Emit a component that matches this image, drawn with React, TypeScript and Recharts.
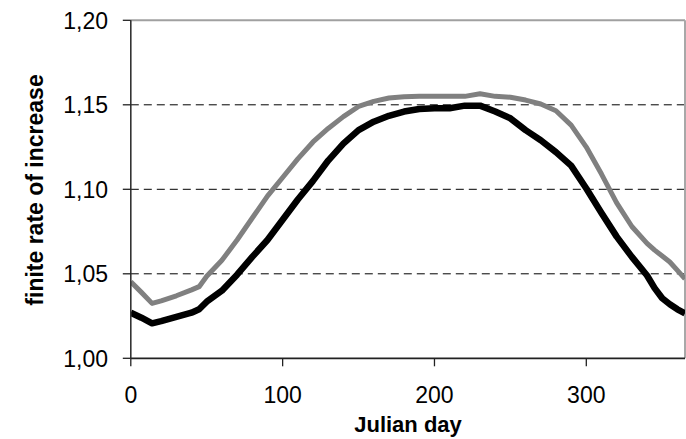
import React from "react";
import { LineChart, Line, XAxis, YAxis, CartesianGrid, ReferenceLine } from "recharts";

const days = [0, 7, 14, 20, 30, 40, 45, 50, 60, 70, 80, 90, 100, 110, 120, 130, 140, 150, 160, 170, 180, 190, 200, 210, 220, 230, 240, 250, 260, 270, 280, 290, 300, 310, 320, 330, 340, 345, 350, 355, 360, 365];
const blackSeries = [1.027, 1.024, 1.0207, 1.022, 1.0245, 1.027, 1.029, 1.0335, 1.04, 1.0495, 1.06, 1.07, 1.082, 1.094, 1.105, 1.117, 1.127, 1.135, 1.14, 1.1435, 1.146, 1.1475, 1.148, 1.148, 1.1495, 1.1495, 1.146, 1.142, 1.135, 1.129, 1.122, 1.114, 1.1005, 1.086, 1.072, 1.06, 1.049, 1.0415, 1.0355, 1.032, 1.029, 1.0266];
const graySeries = [1.0453, 1.039, 1.0325, 1.034, 1.037, 1.0405, 1.0424, 1.0485, 1.058, 1.07, 1.083, 1.096, 1.107, 1.118, 1.128, 1.136, 1.143, 1.149, 1.152, 1.154, 1.1548, 1.155, 1.155, 1.155, 1.155, 1.1565, 1.155, 1.1545, 1.1528, 1.1505, 1.1465, 1.138, 1.125, 1.109, 1.092, 1.078, 1.068, 1.064, 1.0605, 1.057, 1.052, 1.047];
const xTicks = [0, 100, 200, 300];
const yTicks = [1.0, 1.05, 1.1, 1.15, 1.2];
const gridValues = [1.05, 1.1, 1.15];

const data = days.map((d, i) => ({ day: d, black: blackSeries[i], gray: graySeries[i] }));

const FONT = "'Liberation Sans', Arial, sans-serif";

const XTick = (props: any) => {
  const { x, y, payload } = props;
  return (
    <text x={x} y={y + 36.4} textAnchor="middle" fontFamily={FONT} fontSize={23} fill="#000">
      {String(payload.value)}
    </text>
  );
};

const YTick = (props: any) => {
  const { x, y, payload } = props;
  return (
    <text x={x - 14.8} y={y + 8.2} textAnchor="end" fontFamily={FONT} fontSize={23} fill="#000">
      {Number(payload.value).toFixed(2).replace(".", ",")}
    </text>
  );
};

export default function App() {
  return (
    <div style={{ position: "absolute", left: 0, top: 0, width: 686, height: 439, background: "#fff" }}>
      <LineChart
        width={686}
        height={439}
        data={data}
        margin={{ top: 20.3, right: 1, bottom: 20.7, left: 10.8 }}
      >
        <CartesianGrid
          vertical={false}
          horizontalValues={gridValues}
          stroke="#000"
          strokeDasharray="8 5"
          strokeWidth={1}
        />
        <XAxis
          dataKey="day"
          type="number"
          domain={[0, 365]}
          ticks={xTicks}
          height={60}
          tickSize={8}
          tickMargin={0}
          tick={<XTick />}
          axisLine={{ stroke: "#222", strokeWidth: 1.8 }}
          tickLine={{ stroke: "#222", strokeWidth: 1.3 }}
          allowDataOverflow
        />
        <YAxis
          type="number"
          domain={[1.0, 1.2]}
          ticks={yTicks}
          width={120}
          tickSize={8}
          tickMargin={0}
          tick={<YTick />}
          axisLine={{ stroke: "#333", strokeWidth: 1.6 }}
          tickLine={{ stroke: "#222", strokeWidth: 1.3 }}
          allowDataOverflow
        />
        <ReferenceLine y={1.2} stroke="#a0a0a0" strokeWidth={2} />
        <ReferenceLine x={365} stroke="#a8a8a8" strokeWidth={2} />
        <Line
          type="linear"
          dataKey="gray"
          stroke="#808080"
          strokeWidth={5}
          dot={false}
          strokeLinejoin="round"
          isAnimationActive={false}
        />
        <Line
          type="linear"
          dataKey="black"
          stroke="#000"
          strokeWidth={6.5}
          dot={false}
          strokeLinejoin="round"
          isAnimationActive={false}
        />
        <text
          x={43}
          y={190}
          transform="rotate(-90, 43, 190)"
          textAnchor="middle"
          fontFamily={FONT}
          fontSize={23}
          fontWeight="bold"
          fill="#000"
        >
          finite rate of increase
        </text>
        <text x={408} y={432} textAnchor="middle" fontFamily={FONT} fontSize={22} fontWeight="bold" fill="#000">
          Julian day
        </text>
      </LineChart>
    </div>
  );
}
